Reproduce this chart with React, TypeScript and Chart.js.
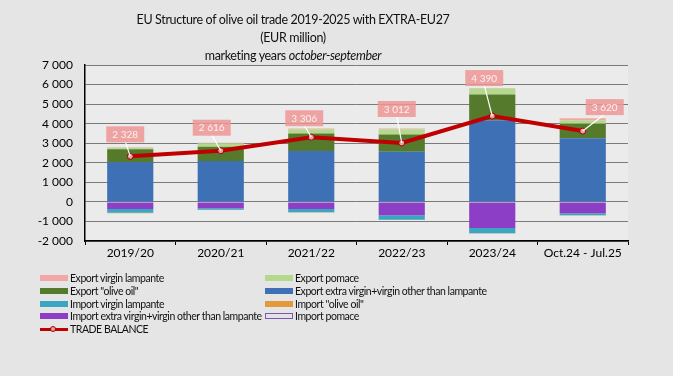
import React, { useEffect, useRef } from "react";
import { Chart, registerables } from "chart.js";
Chart.register(...registerables);

const categories = ["2019/20", "2020/21", "2021/22", "2022/23", "2023/24", "Oct.24 - Jul.25"];
const exportExtraVirgin = [2030, 2090, 2600, 2570, 4180, 3250];
const exportOliveOil = [660, 730, 900, 880, 1310, 750];
const exportPomace = [80, 180, 220, 270, 310, 180];
const exportLampante = [30, 20, 30, 30, 20, 100];
const importExtraVirgin = [-360, -320, -360, -680, -1340, -580];
const importLampante = [-200, -80, -170, -230, -260, -100];
const importOliveOil = [-15, -15, -15, -15, -15, -15];
const importPomace = [-5, -5, -5, -5, -5, -5];
const tradeBalance = [2328, 2616, 3306, 3012, 4390, 3620];
const tradeBalanceLabels = ["2 328", "2 616", "3 306", "3 012", "4 390", "3 620"];
const yMin = -2000;
const yMax = 7000;
const yStep = 1000;

const labelOffsets = [[-5, -22], [-9, -23], [-7, -19], [-5, -34], [-8, -38], [22, -24]];

const C = {
  exLamp: "#f2a7a7",
  exPomace: "#b4d88c",
  exOlive: "#557a2c",
  exEV: "#3d70b4",
  imLamp: "#3aa6c2",
  imOlive: "#e39a3c",
  imEV: "#8c3ec6",
  imPomace: "#e4e0f0",
  balance: "#c00000",
};

const legendItems = [
  [{ t: "Export virgin lampante", c: C.exLamp }, { t: "Export pomace", c: C.exPomace }],
  [{ t: 'Export "olive oil"', c: C.exOlive }, { t: "Export extra virgin+virgin other than lampante", c: C.exEV }],
  [{ t: "Import virgin lampante", c: C.imLamp }, { t: 'Import "olive oil"', c: C.imOlive }],
  [{ t: "Import extra virgin+virgin other than lampante", c: C.imEV }, { t: "Import pomace", c: C.imPomace, b: "#7a5aa0" }],
  [{ t: "TRADE BALANCE", c: C.balance, line: true }, null],
];

const fmt = (v: number) => {
  const s = Math.abs(v).toString().replace(/\B(?=(\d{3})+(?!\d))/g, " ");
  return (v < 0 ? "-" : "") + s;
};

const bgPlugin = {
  id: "bgPlugin",
  beforeDraw(chart: any) {
    const { ctx, chartArea: a } = chart;
    ctx.save();
    ctx.fillStyle = "#ebebeb";
    ctx.fillRect(a.left, a.top, a.right - a.left, a.bottom - a.top);
    ctx.restore();
  },
};

const labelPlugin = {
  id: "labelPlugin",
  afterDatasetsDraw(chart: any) {
    const { ctx } = chart;
    const idx = chart.data.datasets.findIndex((d: any) => d.type === "line");
    const meta = chart.getDatasetMeta(idx);
    ctx.save();
    meta.data.forEach((pt: any, i: number) => {
      const [dx, dy] = labelOffsets[i];
      const bx = pt.x + dx;
      const by = pt.y + dy;
      ctx.strokeStyle = "#ffffff";
      ctx.lineWidth = 1.2;
      ctx.beginPath();
      ctx.moveTo(pt.x, pt.y);
      ctx.lineTo(bx, by + 7);
      ctx.stroke();
      const w = 38, h = 16;
      ctx.fillStyle = "rgba(238,150,150,0.85)";
      ctx.fillRect(bx - w / 2, by - h / 2, w, h);
      ctx.fillStyle = "#fdf0f0";
      ctx.font = "10px Lato";
      ctx.textAlign = "center";
      ctx.textBaseline = "middle";
      ctx.fillText(tradeBalanceLabels[i], bx, by + 0.5);
    });
    ctx.restore();
  },
};

function ChartView() {
  const ref = useRef<HTMLCanvasElement>(null);
  useEffect(() => {
    const bar = (label: string, data: number[], color: string, border?: string) => ({
      type: "bar" as const,
      label,
      data,
      backgroundColor: color,
      borderColor: border || color,
      borderWidth: border ? 1 : 0,
      stack: "s",
      order: 1,
      barPercentage: 0.51,
      categoryPercentage: 1,
    });
    const chart = new Chart(ref.current!, {
      type: "bar",
      data: {
        labels: categories,
        datasets: [
          bar("Export extra virgin+virgin other than lampante", exportExtraVirgin, C.exEV),
          bar('Export "olive oil"', exportOliveOil, C.exOlive),
          bar("Export pomace", exportPomace, C.exPomace),
          bar("Export virgin lampante", exportLampante, C.exLamp),
          bar("Import extra virgin+virgin other than lampante", importExtraVirgin, C.imEV),
          bar("Import virgin lampante", importLampante, C.imLamp),
          bar('Import "olive oil"', importOliveOil, C.imOlive),
          bar("Import pomace", importPomace, C.imPomace),
          {
            type: "line" as const,
            label: "TRADE BALANCE",
            data: tradeBalance,
            borderColor: C.balance,
            borderWidth: 4,
            pointRadius: 3,
            pointBackgroundColor: "#e8a0a0",
            pointBorderColor: "#a00000",
            pointBorderWidth: 1,
            tension: 0,
            order: 0,
          } as any,
        ],
      },
      options: {
        animation: false,
        responsive: false,
        maintainAspectRatio: false,
        layout: { padding: { top: 65, right: 45, bottom: 104, left: 0 } },
        plugins: { legend: { display: false }, tooltip: { enabled: false }, title: { display: false } },
        scales: {
          x: {
            stacked: true,
            grid: { offset: true, drawOnChartArea: false, drawTicks: true, tickLength: 4, color: "#000" },
            border: { color: "#000", width: 1.5 },
            ticks: { color: "#000", font: { family: "Lato", size: 12 }, padding: 1 },
            afterFit: (s: any) => { s.height = 31; },
          },
          y: {
            stacked: true,
            min: yMin,
            max: yMax,
            ticks: {
              stepSize: yStep,
              color: "#000",
              font: { family: "Lato", size: 12 },
              padding: 12,
              callback: (v: any) => fmt(Number(v)),
            },
            grid: { color: "#7a7a7a", lineWidth: 1, drawTicks: false },
            border: { color: "#000", width: 1.5 },
            afterFit: (s: any) => { s.width = 85; },
          },
        },
      },
      plugins: [bgPlugin, labelPlugin],
    });
    return () => chart.destroy();
  }, []);
  return <canvas ref={ref} width={673} height={376} style={{ position: "absolute", left: 0, top: 0 }} />;
}

export default function App() {
  const rowY = (i: number) => 271.5 + i * 12.8;
  return (
    <div style={{ position: "fixed", left: 0, top: 0, width: 673, height: 376, background: "#e5e5e5", fontFamily: "Lato", overflow: "hidden" }}>
      <ChartView />
      <div style={{ position: "absolute", left: 0, top: 11, width: 586, textAlign: "center", fontSize: 12.5, letterSpacing: "-0.35px", lineHeight: "18px", color: "#111" }}>
        <div>EU Structure of olive oil trade 2019-2025 with EXTRA-EU27</div>
        <div>(EUR million)</div>
        <div>marketing years <i>october-september</i></div>
      </div>
      {legendItems.map((row, i) =>
        row.map((it, j) =>
          it ? (
            <div key={i + "-" + j} style={{ position: "absolute", left: j === 0 ? 40 : 265, top: rowY(i), height: 13, display: "flex", alignItems: "center", fontSize: 10.5, letterSpacing: "-0.45px", color: "#111", whiteSpace: "nowrap" }}>
              {it.line ? (
                <div style={{ width: 28, height: 13, position: "relative", marginRight: 2 }}>
                  <div style={{ position: "absolute", left: 0, top: 5, width: 28, height: 3, background: it.c }} />
                  <div style={{ position: "absolute", left: 10, top: 3, width: 6, height: 6, borderRadius: 4, background: "#e8a0a0", border: "1px solid #a00000", boxSizing: "border-box" }} />
                </div>
              ) : (
                <div style={{ width: 28, height: 6, background: it.c, border: (it as any).b ? "1px solid " + (it as any).b : "none", boxSizing: "border-box", marginRight: 2 }} />
              )}
              <span>{it.t}</span>
            </div>
          ) : null
        )
      )}
    </div>
  );
}
